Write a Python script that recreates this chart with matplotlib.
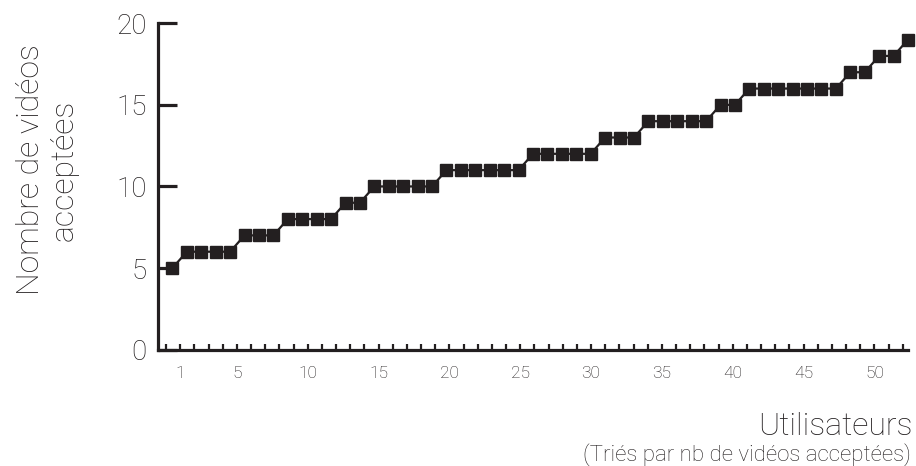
import matplotlib
matplotlib.use("Agg")
import matplotlib.pyplot as plt

# ---- data ----
users = list(range(1, 53))
videos = [5,
          6, 6, 6, 6,
          7, 7, 7,
          8, 8, 8, 8,
          9, 9,
          10, 10, 10, 10, 10,
          11, 11, 11, 11, 11, 11,
          12, 12, 12, 12, 12,
          13, 13, 13,
          14, 14, 14, 14, 14,
          15, 15,
          16, 16, 16, 16, 16, 16, 16,
          17, 17,
          18, 18,
          19]
y_ticks = [0, 5, 10, 15, 20]
x_tick_positions = list(range(0, 53))
x_label_values = [1, 5, 10, 15, 20, 25, 30, 35, 40, 45, 50]

INK = "#231f20"
FONT = ["Roboto", "DejaVu Sans"]
plt.rcParams['font.family'] = FONT
plt.rcParams['font.weight'] = 'light'

fig = plt.figure(figsize=(9.16, 4.66), dpi=100)
ax = fig.add_axes([158/916, 1-349.6/466, 750/916, (349.6-23.3)/466])

ax.plot(users, videos, color=INK, lw=1.6, marker='s', ms=8,
        mfc=INK, mec=INK, zorder=3, clip_on=False)
ax.set_xlim(0, 52)
ax.set_ylim(0, 20)

for s in ['top', 'right']:
    ax.spines[s].set_visible(False)
for s in ['left', 'bottom']:
    ax.spines[s].set_linewidth(2.3)
    ax.spines[s].set_color(INK)
    ax.spines[s].set_capstyle('projecting')

ax.set_yticks(y_ticks)
ax.set_yticklabels([str(v) for v in y_ticks], fontsize=20, color=INK, fontweight='light')
ax.tick_params(axis='y', direction='in', length=13.5, width=2.3, color=INK, pad=8)
ax.set_xticks([])

# secondary tick scale for the category ticks
axt = ax.twiny()
axt.set_xlim(-0.565, 52.37)
axt.xaxis.set_ticks_position('bottom')
axt.xaxis.set_label_position('bottom')
for s in axt.spines.values():
    s.set_visible(False)
axt.set_xticks(x_tick_positions)
axt.set_xticklabels([str(v) if v in x_label_values else "" for v in x_tick_positions],
                    fontsize=12.5, color=INK, fontweight='light')
axt.tick_params(axis='x', direction='in', length=4, width=1.6, color=INK, pad=12)

fig.text(47/916, 1-170/466, "Nombre de vidéos\nacceptées", rotation=90,
         ha='center', va='center', multialignment='center', fontsize=23,
         color=INK, fontweight='light', linespacing=1.2)
fig.text(913/916, 1-435/466, "Utilisateurs", ha='right', va='baseline',
         fontsize=23, color=INK, fontweight='light')
fig.text(911/916, 1-461/466, "(Triés par nb de vidéos acceptées)", ha='right',
         va='baseline', fontsize=16, color=INK, fontweight='light')

fig.savefig("out.png", dpi=100)
